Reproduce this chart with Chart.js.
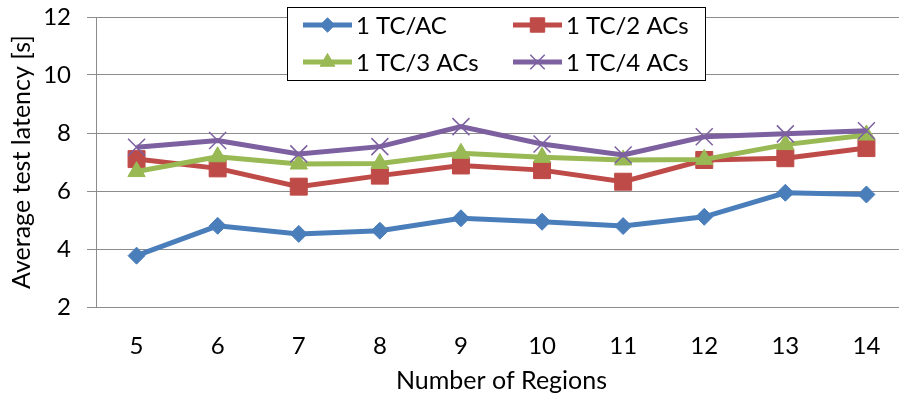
<!DOCTYPE html>
<html>
<head>
<meta charset="utf-8">
<script src="https://cdn.jsdelivr.net/npm/chart.js@4"></script>
<style>
  html, body { margin: 0; padding: 0; background: #fff; overflow: hidden; }
  #wrap { position: relative; width: 910px; height: 401px; }
</style>
</head>
<body>
<div id="wrap"><canvas id="latencyChart" width="910" height="401"></canvas></div>
<script>
// Data
const regions = ["5", "6", "7", "8", "9", "10", "11", "12", "13", "14"];
const oneAc   = [3.77, 4.80, 4.52, 4.63, 5.06, 4.94, 4.79, 5.11, 5.94, 5.88];
const twoAcs  = [7.10, 6.78, 6.15, 6.53, 6.88, 6.72, 6.32, 7.07, 7.13, 7.48];
const threeAcs = [6.67, 7.18, 6.93, 6.95, 7.30, 7.16, 7.07, 7.09, 7.60, 7.93];
const fourAcs = [7.51, 7.74, 7.28, 7.53, 8.22, 7.62, 7.24, 7.87, 7.97, 8.08];
const seriesNames = ["1 TC/AC", "1 TC/2 ACs", "1 TC/3 ACs", "1 TC/4 ACs"];
const yTicks = [2, 4, 6, 8, 10, 12];

const FONT = "Lato, 'Open Sans', sans-serif";
const GRID = "#8c8c8c";

function series(label, data, color, style, radius, bw) {
  return {
    label: label,
    data: data,
    borderColor: color,
    backgroundColor: color,
    borderWidth: 5,
    pointStyle: style,
    pointRadius: radius,
    pointHoverRadius: radius,
    pointBackgroundColor: color,
    pointBorderColor: color,
    pointBorderWidth: bw,
    tension: 0
  };
}

const datasets = [
  series(seriesNames[0], oneAc, "#4a7ebb", "rectRot", 8.5, 1),
  series(seriesNames[1], twoAcs, "#be4b48", "rect", 12, 1),
  series(seriesNames[2], threeAcs, "#98b954", "triangle", 10, 1),
  series(seriesNames[3], fourAcs, "#7d60a0", "crossRot", 12, 1.5)
];
// draw purple on top like the reference
datasets.forEach((d, i) => d.order = 4 - i);

// Legend box drawn over the plot, two columns
const boxLegend = {
  id: "boxLegend",
  afterDraw(chart) {
    const ctx = chart.ctx;
    const bx = 287, by = 7, bw = 418, bh = 73;
    ctx.save();
    ctx.fillStyle = "#fff";
    ctx.fillRect(bx, by, bw, bh);
    ctx.strokeStyle = "#000";
    ctx.lineWidth = 1;
    ctx.strokeRect(bx + 0.5, by + 0.5, bw, bh);
    const cols = [303, 513];
    const rows = [25, 62];
    chart.data.datasets.forEach((ds, i) => {
      const x = cols[i % 2], y = rows[Math.floor(i / 2)];
      ctx.strokeStyle = ds.borderColor;
      ctx.lineWidth = 5;
      ctx.beginPath();
      ctx.moveTo(x, y);
      ctx.lineTo(x + 49, y);
      ctx.stroke();
      ctx.fillStyle = ds.pointBackgroundColor;
      ctx.strokeStyle = ds.pointBorderColor;
      ctx.lineWidth = ds.pointBorderWidth;
      Chart.helpers.drawPoint(ctx, {
        pointStyle: ds.pointStyle,
        radius: ds.pointRadius * 0.85,
        rotation: 0,
        borderWidth: ds.pointBorderWidth
      }, x + 24.5, y);
      ctx.fillStyle = "#000";
      ctx.font = "24px " + FONT;
      ctx.textAlign = "left";
      ctx.textBaseline = "middle";
      ctx.fillText(ds.label, x + 53, y + 1);
    });
    ctx.restore();
  }
};

new Chart(document.getElementById("latencyChart"), {
  type: "line",
  data: { labels: regions, datasets: datasets },
  plugins: [boxLegend],
  options: {
    responsive: false,
    animation: false,
    layout: { autoPadding: false, padding: { top: 17, right: 3, left: 0, bottom: 0 } },
    plugins: {
      legend: { display: false },
      tooltip: { enabled: false }
    },
    scales: {
      x: {
        offset: true,
        grid: { display: false, drawTicks: false },
        border: { display: true, color: GRID, width: 1 },
        ticks: { color: "#000", font: { family: FONT, size: 24 }, padding: 25 },
        title: {
          display: true,
          text: "Number of Regions",
          color: "#000",
          font: { family: FONT, size: 25 },
          padding: { top: 4, bottom: 5 }
        },
        afterFit(scale) {
          scale.height = 94;
          scale.paddingLeft = 0;
          scale.paddingRight = 0;
        }
      },
      y: {
        min: 2,
        max: 12,
        afterBuildTicks(scale) { scale.ticks = yTicks.map(v => ({ value: v })); },
        grid: { color: GRID, lineWidth: 1, tickLength: 9, drawTicks: true },
        border: { display: true, color: GRID, width: 1 },
        ticks: { color: "#000", font: { family: FONT, size: 24 }, padding: 16 },
        title: {
          display: true,
          text: "Average test latency [s]",
          color: "#000",
          font: { family: FONT, size: 25 },
          padding: { top: 7, bottom: 0 }
        },
        afterFit(scale) {
          scale.width = 96;
          scale.paddingTop = 0;
          scale.paddingBottom = 0;
        }
      }
    }
  }
});
</script>
</body>
</html>
